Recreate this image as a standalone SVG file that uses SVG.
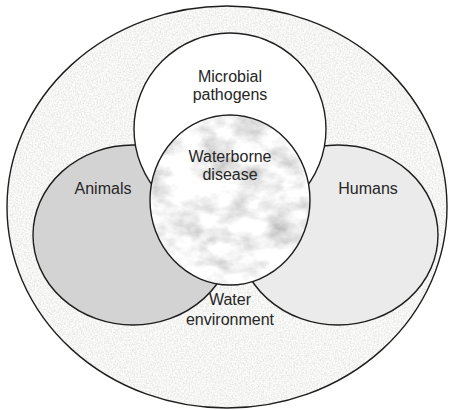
<svg xmlns="http://www.w3.org/2000/svg" width="449" height="410" viewBox="0 0 449 410">
  <defs>
    <filter id="speckle" x="0" y="0" width="100%" height="100%">
      <feTurbulence type="fractalNoise" baseFrequency="0.65" numOctaves="2" seed="3" result="n"/>
      <feColorMatrix in="n" type="matrix" values="0.42 0 0 0 0.7  0.42 0 0 0 0.7  0.4 0 0 0 0.7  0 0 0 0 1" result="g"/>
      <feComposite in="g" in2="SourceGraphic" operator="in"/>
    </filter>
    <filter id="marble" x="0" y="0" width="100%" height="100%">
      <feTurbulence type="fractalNoise" baseFrequency="0.03 0.045" numOctaves="4" seed="7" result="n"/>
      <feColorMatrix in="n" type="matrix" values="1.2 0 0 0 0.3  1.2 0 0 0 0.3  1.2 0 0 0 0.3  0 0 0 0 1" result="g"/>
      <feComposite in="g" in2="SourceGraphic" operator="in"/>
    </filter>
    <style>
      .ln { stroke: #1e1e1e; stroke-width: 1.4; }
      .t { font-family: "Liberation Sans", Arial, sans-serif; font-size: 16px; fill: #262626; text-anchor: middle; }
    </style>
  </defs>
  <rect width="449" height="410" fill="#ffffff"/>
  <g id="water-environment">
    <ellipse cx="227" cy="207" rx="220" ry="201" fill="#e6e6e4" filter="url(#speckle)"/>
    <ellipse cx="227" cy="207" rx="220" ry="201" fill="none" class="ln"/>
    <text class="t" x="230" y="305">Water</text>
    <text class="t" x="230" y="325">environment</text>
  </g>
  <g id="animals">
    <ellipse cx="133" cy="235" rx="100" ry="90" fill="#d3d3d3" class="ln"/>
    <text class="t" x="103" y="194">Animals</text>
  </g>
  <g id="humans">
    <ellipse cx="338" cy="235" rx="100" ry="90" fill="#ebebeb" class="ln"/>
    <text class="t" x="368" y="194">Humans</text>
  </g>
  <g id="microbial-pathogens">
    <circle cx="230" cy="129" r="96" fill="#ffffff" class="ln"/>
    <text class="t" x="230" y="82">Microbial</text>
    <text class="t" x="230" y="100">pathogens</text>
  </g>
  <g id="waterborne-disease">
    <ellipse cx="230" cy="200" rx="80" ry="85" fill="#dddddd" filter="url(#marble)"/>
    <ellipse cx="230" cy="200" rx="80" ry="85" fill="none" class="ln"/>
    <text class="t" x="230" y="162">Waterborne</text>
    <text class="t" x="230" y="180">disease</text>
  </g>
  <g id="connectors"/>
</svg>
